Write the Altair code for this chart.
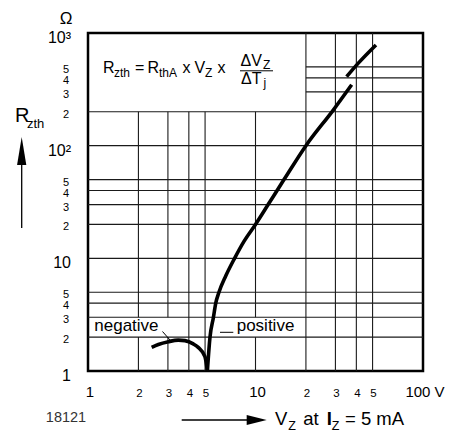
import altair as alt
import pandas as pd

FONT = "Liberation Sans"

# ---- curve data (V_Z in volts, R_zth in ohms) ----
neg_v = [2.40, 2.63, 3.02, 3.46, 3.79, 4.25, 4.55, 4.99, 5.16]
neg_r = [1.62, 1.72, 1.82, 1.88, 1.86, 1.74, 1.62, 1.34, 1.0]
pos_lo_v = [5.16, 5.35, 5.61, 5.79, 6.05, 6.65, 7.5, 8.5, 10.0, 11.9, 14.8, 20.0, 29.2, 37.5]
pos_lo_r = [1.0, 2.0, 3.0, 4.0, 5.0, 7.0, 10.0, 14.0, 20.0, 30.0, 50.0, 100.0, 208.0, 347.0]
pos_hi_v = [35.0, 41.1, 52.4]
pos_hi_r = [410.0, 540.0, 783.0]

# ---- tick labels ----
x_big = [1, 10, 100]
x_big_txt = ["1", "10", "100 V"]
x_small = [2, 3, 4, 5, 20, 30, 40, 50]
x_small_txt = ["2", "3", "4", "5", "2", "3", "4", "5"]
y_big = [1000, 100, 10, 1]
y_big_txt = ["10³", "10²", "10", "1"]
y_small = [500, 400, 300, 200, 50, 40, 30, 20, 5, 4, 3, 2]
y_small_txt = ["5", "4", "3", "2", "5", "4", "3", "2", "5", "4", "3", "2"]

# ---- grid segments ----
v_pos = [2, 2, 3, 3, 4, 5, 10, 10, 20, 30, 40, 50]
v_from = [1, 3, 1, 3, 1, 1, 1, 3, 1, 1, 1, 1]
v_to = [2, 200, 2, 200, 200, 200, 2, 200, 1000, 1000, 1000, 1000]
h_pos = [2, 3, 4, 5, 10, 20, 30, 40, 50, 100, 200, 300, 400, 500]
h_from = [1, 1, 1, 1, 1, 1, 1, 1, 1, 1, 1, 20, 20, 20]
h_to = [100] * 14

W, H = 335, 338
xs = alt.Scale(type="log", domain=[1, 100], nice=False)
ys = alt.Scale(type="log", domain=[1, 1000], nice=False)

curve_rows = []
for name, vv, rr in [("neg", neg_v, neg_r), ("poslo", pos_lo_v, pos_lo_r), ("poshi", pos_hi_v, pos_hi_r)]:
    for i, (v, r) in enumerate(zip(vv, rr)):
        curve_rows.append({"seg": name, "i": i, "v": v, "r": r})
curves_df = pd.DataFrame(curve_rows)

vdf = pd.DataFrame({"x": v_pos, "y1": v_from, "y2": v_to})
hdf = pd.DataFrame({"y": h_pos, "x1": h_from, "x2": h_to})

GRID = "#1a1a1a"
vgrid = alt.Chart(vdf).mark_rule(color=GRID, strokeWidth=1.1).encode(
    x=alt.X("x:Q", scale=xs, axis=None),
    y=alt.Y("y1:Q", scale=ys, axis=None),
    y2="y2:Q",
)
hgrid = alt.Chart(hdf).mark_rule(color=GRID, strokeWidth=1.1).encode(
    y=alt.Y("y:Q", scale=ys, axis=None),
    x=alt.X("x1:Q", scale=xs, axis=None),
    x2="x2:Q",
)

curves = alt.Chart(curves_df).mark_line(
    color="black", strokeWidth=3.6, interpolate="monotone", strokeCap="butt"
).encode(
    x=alt.X("v:Q", scale=xs, axis=None),
    y=alt.Y("r:Q", scale=ys, axis=None),
    detail="seg:N",
    order="i:Q",
)

# tick labels
xb = alt.Chart(pd.DataFrame({"v": x_big, "t": x_big_txt})).mark_text(
    font=FONT, fontSize=15, baseline="middle", align="center", dx=2
).encode(x=alt.X("v:Q", scale=xs, axis=None), y=alt.value(H + 21), text="t:N")
xsm = alt.Chart(pd.DataFrame({"v": x_small, "t": x_small_txt})).mark_text(
    font=FONT, fontSize=11.5, baseline="middle", align="center", dx=1
).encode(x=alt.X("v:Q", scale=xs, axis=None), y=alt.value(H + 23), text="t:N")
yb = alt.Chart(pd.DataFrame({"v": y_big, "t": y_big_txt})).mark_text(
    font=FONT, fontSize=16, baseline="middle", align="right", dy=5
).encode(y=alt.Y("v:Q", scale=ys, axis=None), x=alt.value(-17), text="t:N")
ysm = alt.Chart(pd.DataFrame({"v": y_small, "t": y_small_txt})).mark_text(
    font=FONT, fontSize=11, baseline="middle", align="center", dy=3
).encode(y=alt.Y("v:Q", scale=ys, axis=None), x=alt.value(-22), text="t:N")

one = pd.DataFrame({"a": [0]})


def label(text, x, y, size, align="left", baseline="alphabetic", weight="normal", color="black"):
    return alt.Chart(one).mark_text(
        text=text, font=FONT, fontSize=size, align=align, baseline=baseline,
        fontWeight=weight, color=color
    ).encode(x=alt.value(x), y=alt.value(y))


def seg(x1, y1, x2, y2, w=1.0):
    return alt.Chart(one).mark_rule(color="black", strokeWidth=w).encode(
        x=alt.value(x1), y=alt.value(y1), x2=alt.value(x2), y2=alt.value(y2)
    )


def head(x, y, path, size):
    return alt.Chart(one).mark_point(
        shape=path, size=size, filled=True, color="black", opacity=1, strokeWidth=0
    ).encode(x=alt.value(x), y=alt.value(y))


MS, SS = 16, 12
texts = [
    # formula
    label("R", 15, 40, MS), label("zth", 26, 43.5, SS),
    label("=", 47, 40, MS), label("R", 59.5, 40, MS), label("thA", 71, 43.5, SS),
    label("x", 94.5, 40, MS), label("V", 106.5, 40, MS), label("Z", 117, 43.5, SS),
    label("x", 129.5, 40, MS),
    label("ΔV", 152.5, 33, MS), label("Z", 175, 36, SS),
    seg(152, 37.8, 185, 37.8, 1.0),
    label("ΔT", 153, 50.5, MS), label("j", 175.5, 54, SS),
    # unit and axis titles
    label("Ω", -22, -14, 17, align="center", baseline="middle"),
    label("R", -73, 88.7, 20), label("zth", -61, 95, 13),
    seg(-66.3, 195, -66.3, 125, 1.3),
    head(-66.3, 118, "M0,-1L0.33,1L-0.33,1Z", 784),
    label("18121", -22, 384.5, 14.5, align="center", baseline="middle", color="#333"),
    seg(93.7, 387, 165, 387, 1.3),
    head(168.7, 387, "M1,0L-1,-0.5L-1,0.5Z", 400),
    label("V", 187, 392, 18.5), label("Z", 200.3, 397, 12.5),
    label("at", 215.3, 392, 18.5), label("I", 238.7, 392, 18.5, weight="bold"),
    label("Z", 243.7, 397, 12.5), label("= 5 mA", 257, 392, 18.5),
    # curve labels
    label("negative", 6.3, 298, 17), seg(74.5, 298.5, 82, 307, 1.0),
    label("positive", 148.7, 298, 17), seg(132, 299.3, 145.3, 299.3, 1.0),
]

chart = alt.layer(vgrid, hgrid, curves, xb, xsm, yb, ysm, *texts).properties(
    width=W, height=H,
    autosize="none",
    padding={"left": 80, "top": 25, "right": 26, "bottom": 62},
    background="white",
).configure_view(stroke="black", strokeWidth=2.5)

chart.save("out.html", embed_options={"renderer": "svg", "actions": False})
